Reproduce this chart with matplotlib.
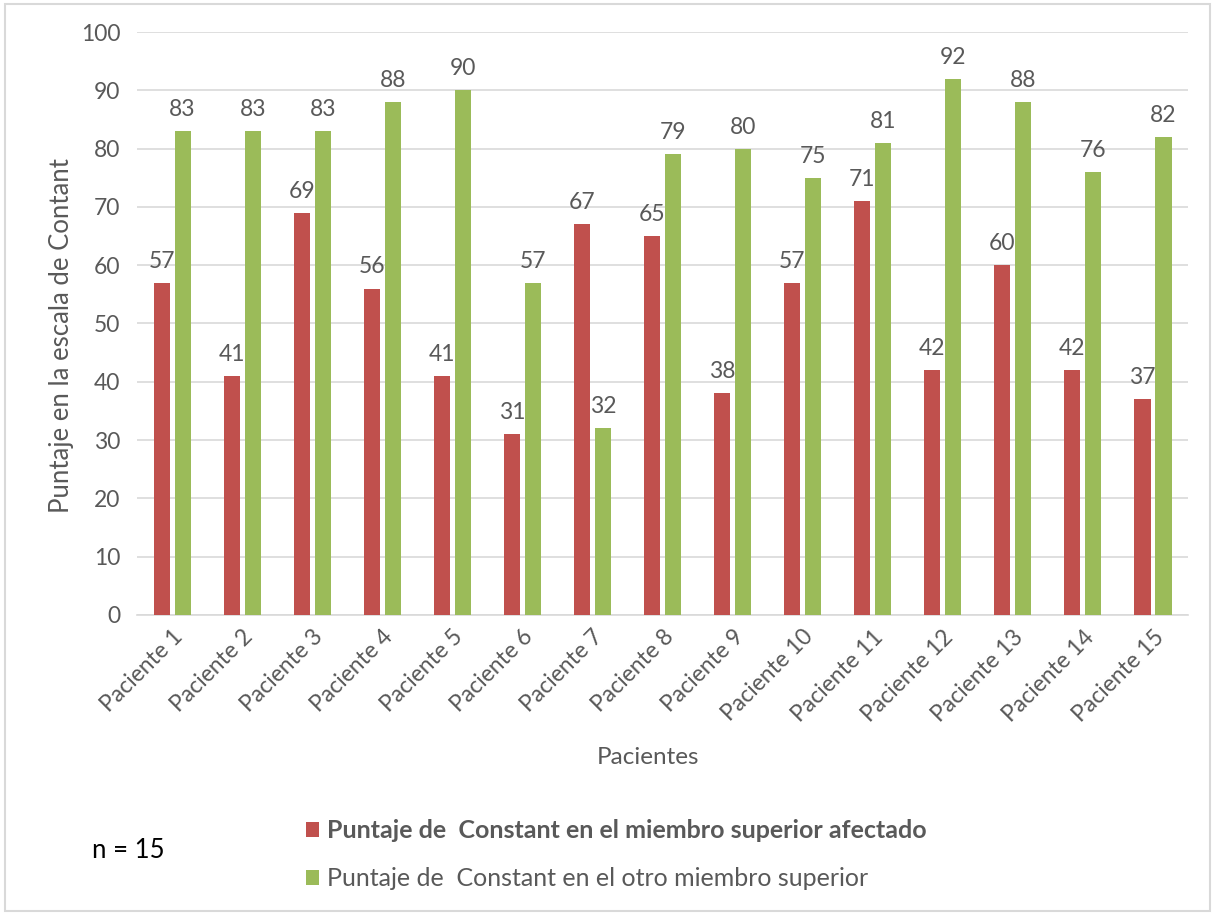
import numpy as np
import matplotlib.pyplot as plt
from matplotlib.patches import Rectangle

plt.rcParams['font.family'] = ['Lato', 'DejaVu Sans']

pacientes = [f"Paciente {i}" for i in range(1, 16)]
afectado = [57, 41, 69, 56, 41, 31, 67, 65, 38, 57, 71, 42, 60, 42, 37]
otro = [83, 83, 83, 88, 90, 57, 32, 79, 80, 75, 81, 92, 88, 76, 82]

ROJO = '#C0504D'
VERDE = '#9BBB59'
GRIS = '#595959'

fig = plt.figure(figsize=(12.15, 9.15), dpi=100)
ax = fig.add_axes([0.1128, 0.3279, 0.865, 0.6371])

x = np.arange(len(pacientes))
ancho = 0.23
b1 = ax.bar(x - 0.15, afectado, ancho, color=ROJO, zorder=3,
            label='Puntaje de  Constant en el miembro superior afectado')
b2 = ax.bar(x + 0.15, otro, ancho, color=VERDE, zorder=3,
            label='Puntaje de  Constant en el otro miembro superior')
ax.bar_label(b1, padding=8, fontsize=16.5, color=GRIS)
ax.bar_label(b2, padding=8, fontsize=16.5, color=GRIS)

ax.set_xlim(-0.5, len(pacientes) - 0.5)
ax.set_ylim(0, 100)
ax.set_yticks(range(0, 101, 10))
ax.grid(axis='y', color='#D9D9D9', linewidth=1.2, zorder=0)
for s in ['top', 'right', 'left']:
    ax.spines[s].set_visible(False)
ax.spines['bottom'].set_color('#D9D9D9')
ax.spines['bottom'].set_linewidth(1.2)
ax.tick_params(axis='both', length=0, labelsize=16.5, colors=GRIS, pad=12)
ax.set_xticks(x)
ax.set_xticklabels(pacientes, rotation=45, ha='right', rotation_mode='anchor')
ax.tick_params(axis='x', pad=8)

ax.set_ylabel('Puntaje en la escala de Contant', fontsize=18.5, color=GRIS)
ax.yaxis.set_label_coords(-0.06, 0.48)
fig.text(0.533, 0.172, 'Pacientes', fontsize=17.5, color=GRIS, ha='center', va='center')

leg = fig.legend(handles=[b1, b2], loc='center left', bbox_to_anchor=(0.233, 0.066),
                 frameon=False, fontsize=18, handlelength=0.55, handleheight=0.55,
                 handletextpad=0.3, labelspacing=1.0, labelcolor=GRIS)
leg.get_texts()[0].set_fontweight('bold')

fig.text(0.076, 0.07, 'n = 15', fontsize=18.5, color='black', ha='left', va='center')

fig.patches.append(Rectangle((0.004, 0.004), 0.992, 0.992, transform=fig.transFigure,
                             fill=False, edgecolor='#D9D9D9', linewidth=1.5))

fig.savefig('out.png', dpi=100)
